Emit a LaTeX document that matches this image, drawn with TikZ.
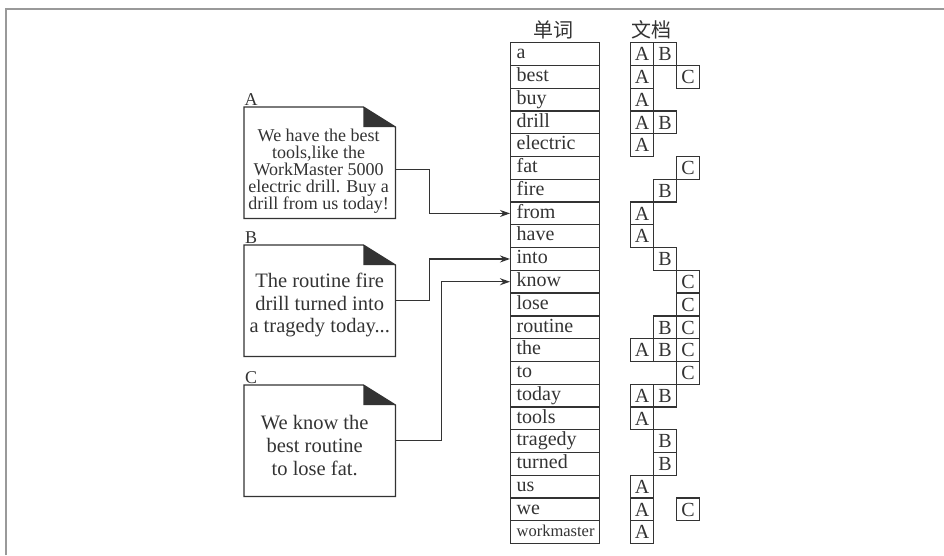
\documentclass[tikz,border=0pt]{standalone}
\usepackage{fontspec}
\setmainfont{Liberation Serif}
\newfontfamily\cjk{Noto Sans CJK SC}
\usetikzlibrary{arrows.meta,calc}
\definecolor{ink}{HTML}{333333}
\definecolor{framecol}{HTML}{999999}
\begin{document}
\begin{tikzpicture}[x=1pt,y=-1pt,
  every node/.style={text=ink},
  wordcell/.style={draw=ink,line width=1.3pt,anchor=north west,minimum width=89pt,minimum height=22.77pt,
    text width=77pt,inner xsep=6pt,inner ysep=0pt,align=left,text height=13.5pt,text depth=4pt,
    font=\fontsize{20}{20}\selectfont},
  doccell/.style={draw=ink,line width=1.3pt,anchor=north west,minimum width=23pt,minimum height=22.77pt,
    inner sep=0pt,text height=13.5pt,text depth=0pt,font=\fontsize{20}{20}\selectfont},
  docbox/.style={anchor=north west,minimum width=151pt,minimum height=111pt,inner sep=0pt},
  docline/.style={draw=ink,line width=1.3pt},
  doctext/.style={align=center,inner sep=0pt},
  lbl/.style={anchor=base,inner sep=0pt,font=\fontsize{18}{18}\selectfont},
  hdr/.style={font=\cjk\fontsize{20}{20}\selectfont,inner sep=0pt},
  conn/.style={draw=ink,line width=1.2pt,-{Stealth[length=10pt,width=7pt]}}
]
\useasboundingbox (0,0) rectangle (944,555);
\draw[framecol,line width=1.3pt] (6,555) -- (6,9) -- (944,9);

% headers
\node[hdr] (h1) at (553,30) {单词};
\node[hdr] (h2) at (651,30) {文档};

% word list
\foreach \w [count=\i from 0] in {a,best,buy,drill,electric,fat,fire,from,have,into,know,lose,routine,the,to,today,tools,tragedy,turned,us,we}
  \node[wordcell] (w\i) at (510,{42+22.77*\i}) {\w};
\node[wordcell,font=\fontsize{16.5}{16.5}\selectfont] (w21) at (510,{42+22.77*21}) {workmaster};

% document cells
\foreach \r/\c in {0/0,0/1,1/0,1/2,2/0,3/0,3/1,4/0,5/2,6/1,7/0,8/0,9/1,10/2,11/2,12/1,12/2,13/0,13/1,13/2,14/2,15/0,15/1,16/0,17/1,18/1,19/0,20/0,20/2,21/0}
  \node[doccell] (d\r-\c) at ({630+23*\c},{42+22.77*\r}) {\ifcase\c A\or B\or C\fi};

% documents
\node[docbox] (docA) at (244,107) {};
\node[docbox] (docB) at (244,245) {};
\node[docbox] (docC) at (244,385) {};
\foreach \d in {docA,docB,docC}{
  \draw[docline] (\d.north west) -- ([xshift=-32pt]\d.north east) -- ([yshift=-20pt]\d.north east)
     -- (\d.south east) -- (\d.south west) -- cycle;
  \fill[ink] ([xshift=-32pt]\d.north east) -- ([xshift=-32pt,yshift=-20pt]\d.north east)
     -- ([yshift=-20pt]\d.north east) -- cycle;
}
\node[doctext,font=\fontsize{18}{17}\selectfont] (tA) at ([xshift=-1pt,yshift=-8pt]docA.center)
  {We have the best\\tools,like the\\WorkMaster 5000\\electric drill. Buy a\\drill from us today!};
\node[doctext,font=\fontsize{20.5}{22.5}\selectfont] (tB) at ([yshift=-4.5pt]docB.center)
  {The routine fire\\drill turned into\\a tragedy today...};
\node[doctext,font=\fontsize{20.5}{23}\selectfont] (tC) at ([xshift=-5pt,yshift=-5pt]docC.center)
  {We know the\\best routine\\to lose fat.};

\node[lbl] (lA) at (251,105) {A};
\node[lbl] (lB) at (251,243) {B};
\node[lbl] (lC) at (251,383) {C};

% connectors
\draw[conn] ([yshift=-6.5pt]docA.east) -- ++(34,0) |- (w7.west);
\draw[conn] (docB.east) -- ++(34,0) |- (w9.west);
\draw[conn] (docC.east) -- ++(46,0) |- (w10.west);
\end{tikzpicture}
\end{document}
